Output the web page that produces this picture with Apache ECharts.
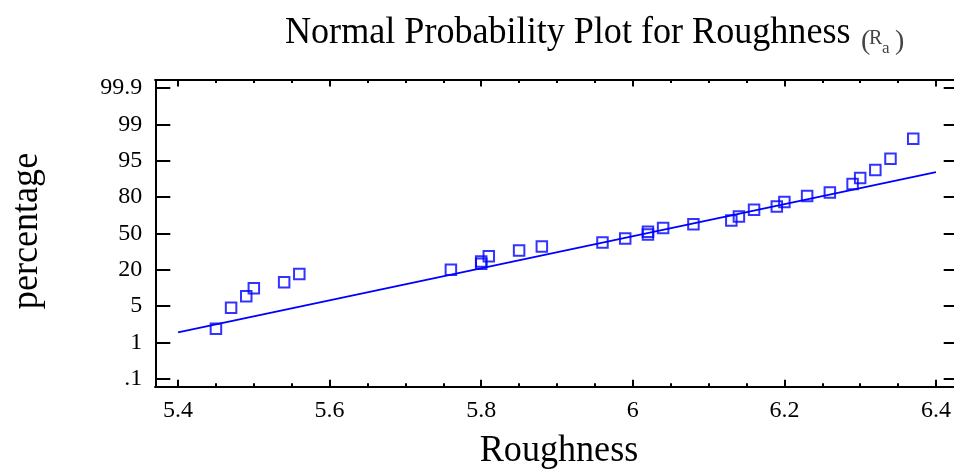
<!DOCTYPE html>
<html>
<head>
<meta charset="utf-8">
<script src="https://cdn.jsdelivr.net/npm/echarts@6/dist/echarts.min.js"></script>
<style>
html,body{margin:0;padding:0;background:#fff;}
#chart{width:954px;height:472px;}
</style>
</head>
<body>
<div id="chart"></div>
<script>
// ---- data ----
var roughness = [5.45, 5.47, 5.49, 5.50, 5.54, 5.56, 5.76, 5.80, 5.80, 5.81,
  5.85, 5.88, 5.96, 5.99, 6.02, 6.02, 6.04, 6.08, 6.13, 6.14,
  6.16, 6.19, 6.20, 6.23, 6.26, 6.29, 6.30, 6.32, 6.34, 6.37];
var percentage = [2.5, 4.8, 9.0, 12.3, 14.8, 18.2, 20.0, 24.9, 26.8, 31.0,
  35.9, 39.2, 42.5, 45.8, 49.1, 51.4, 54.4, 57.5, 60.7, 64.0,
  69.5, 72.2, 75.9, 80.4, 81.9, 85.4, 87.8, 91.1, 95.2, 97.4];
var fitX = [5.4, 6.4];
var fitPct = [2.1, 90.3];
var yTickValues = [0.1, 1, 5, 20, 50, 80, 95, 99, 99.9];
var yTickLabels = ['.1', '1', '5', '20', '50', '80', '95', '99', '99.9'];
var xMajorTicks = [5.4, 5.6, 5.8, 6.0, 6.2, 6.4];
var xMinorTicks = [5.45, 5.5, 5.55, 5.65, 5.7, 5.75, 5.85, 5.9, 5.95, 6.05, 6.1, 6.15, 6.25, 6.3, 6.35];

// map a percentage to its position on the probability axis (ticks evenly spaced)
function toPos(p) {
  for (var i = 0; i < yTickValues.length - 1; i++) {
    if (p <= yTickValues[i + 1]) {
      return i + (p - yTickValues[i]) / (yTickValues[i + 1] - yTickValues[i]);
    }
  }
  return yTickValues.length - 1;
}
var pts = roughness.map(function (x, i) { return [x, toPos(percentage[i])]; });
var fit = fitX.map(function (x, i) { return [x, toPos(fitPct[i])]; });
var yIdx = yTickValues.map(function (v, i) { return i; });

var FONT = '"Liberation Serif", "Times New Roman", serif';
var black = '#000';

function xAxisDef(pos, ticks, len, labels) {
  return {
    type: 'value', position: pos, min: 5.37, max: 6.43,
    axisLine: { show: true, onZero: false, lineStyle: { color: black, width: 2 } },
    axisTick: { show: true, inside: true, length: len, customValues: ticks, lineStyle: { color: black, width: 2 } },
    axisLabel: labels ? {
      show: true, customValues: ticks, margin: 12, color: black, fontFamily: FONT, fontSize: 24,
      formatter: function (v) { return String(Math.round(v * 10) / 10); }
    } : { show: false },
    splitLine: { show: false }
  };
}
function yAxisDef(pos, labels) {
  return {
    type: 'value', position: pos, min: -0.22, max: 8.22,
    axisLine: { show: true, onZero: false, lineStyle: { color: black, width: 2 } },
    axisTick: { show: true, inside: true, length: 15, customValues: yIdx, lineStyle: { color: black, width: 2 } },
    axisLabel: labels ? {
      show: true, customValues: yIdx, margin: 13, color: black, fontFamily: FONT, fontSize: 24,
      formatter: function (v) { return yTickLabels[Math.round(v)]; }
    } : { show: false },
    splitLine: { show: false }
  };
}

var chart = echarts.init(document.getElementById('chart'), null, { renderer: 'canvas' });

chart.setOption({
  animation: false,
  backgroundColor: '#fff',
  grid: { left: 155.3, width: 803.4, top: 80, height: 306.7, containLabel: false, outerBoundsMode: 'none' },
  xAxis: [
    xAxisDef('bottom', xMajorTicks, 7, true),
    xAxisDef('bottom', xMinorTicks, 3.5, false),
    xAxisDef('top', xMajorTicks, 6.5, false),
    xAxisDef('top', xMinorTicks, 3, false)
  ],
  yAxis: [yAxisDef('left', true), yAxisDef('right', false)],
  graphic: [
    { type: 'text', x: 285, y: 14.5, scaleX: 0.95, style: { text: 'Normal Probability Plot for Roughness', font: '38px ' + FONT, fill: black, verticalAlign: 'top' } },
    { type: 'text', x: 861, y: 27.6, style: { text: '(', font: '28px ' + FONT, fill: '#444', verticalAlign: 'top' } },
    { type: 'text', x: 869, y: 29, style: { text: 'R', font: '20px ' + FONT, fill: '#444', verticalAlign: 'top' } },
    { type: 'text', x: 882, y: 40.5, style: { text: 'a', font: '17px ' + FONT, fill: '#444', verticalAlign: 'top' } },
    { type: 'text', x: 895, y: 27.6, style: { text: ')', font: '28px ' + FONT, fill: '#444', verticalAlign: 'top' } },
    { type: 'text', x: 559, y: 432, scaleX: 0.95, style: { text: 'Roughness', font: '38px ' + FONT, fill: black, align: 'center', verticalAlign: 'top' } },
    { type: 'text', x: 8, y: 231, rotation: Math.PI / 2, scaleX: 0.95, style: { text: 'percentage', font: '38px ' + FONT, fill: black, align: 'center', verticalAlign: 'top' } }
  ],
  series: [
    {
      type: 'line', data: fit, xAxisIndex: 0, yAxisIndex: 0,
      showSymbol: false, symbol: 'none', silent: true,
      lineStyle: { color: '#0000ff', width: 1.8 }, z: 2
    },
    {
      type: 'scatter', data: pts, xAxisIndex: 0, yAxisIndex: 0,
      symbol: 'rect', symbolSize: 10.5,
      itemStyle: { color: 'rgba(0,0,0,0)', borderColor: '#0000ff', borderWidth: 2 }, z: 3
    }
  ]
});
</script>
</body>
</html>
